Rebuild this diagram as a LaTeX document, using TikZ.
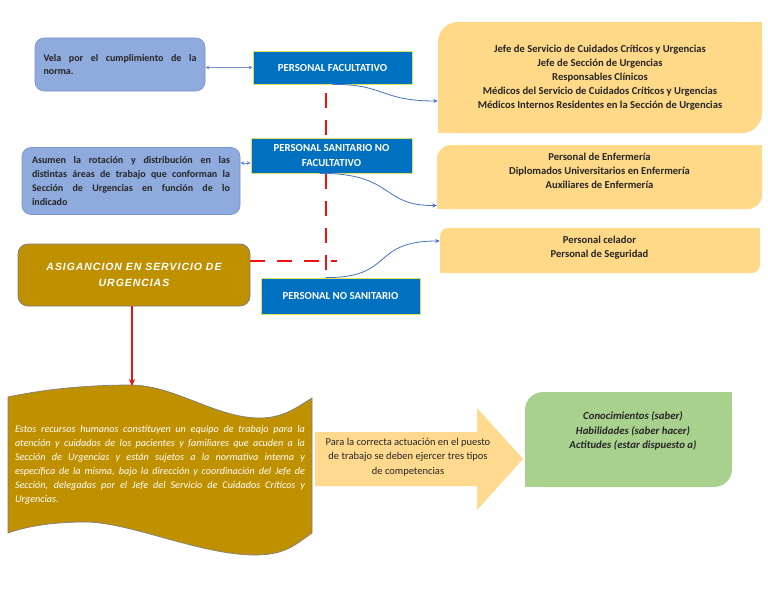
\documentclass[tikz,border=0pt]{standalone}
\usepackage{fontspec}
\setmainfont{Carlito}
\newfontfamily\asigfont[LetterSpace=9]{Liberation Sans}
\usetikzlibrary{arrows.meta,backgrounds}
\definecolor{boxblue}{HTML}{0070C0}
\definecolor{boxedge}{HTML}{DDE35A}
\definecolor{lav}{HTML}{8FAADC}
\definecolor{lavedge}{HTML}{7B93CC}
\definecolor{orangeF}{HTML}{FFD888}
\definecolor{arrowF}{HTML}{FFD98E}
\definecolor{gold}{HTML}{BF9000}
\definecolor{goldedge}{HTML}{7F7F7F}
\definecolor{greenF}{HTML}{A9D18E}
\definecolor{connc}{HTML}{4472C4}
\definecolor{dblc}{HTML}{7090D0}
\definecolor{redc}{HTML}{F01010}
\definecolor{txt}{HTML}{262626}
\begin{document}
\begin{tikzpicture}[x=1pt,y=-1pt,
  bluebox/.style={draw=boxedge, line width=0.8pt, fill=boxblue, text=white,
    font=\fontsize{10.8}{15}\selectfont\bfseries, align=center, inner sep=0pt},
  lavbox/.style={draw=lavedge, line width=0.6pt, fill=lav, rounded corners=9pt,
    text=txt, align=left, inner sep=0pt},
  orbox/.style={fill=orangeF, inner sep=0pt},
  ortext/.style={text=txt, font=\fontsize{10.6}{14}\selectfont\bfseries, align=center, inner sep=0pt},
  conn/.style={draw=connc, line width=0.8pt, -{Stealth[length=4.5pt,width=4pt]}},
  dbl/.style={draw=dblc, line width=0.8pt, {Stealth[length=4pt,width=4pt]}-{Stealth[length=4pt,width=4pt]}},
  reddash/.style={draw=redc, line width=2.6pt, dash pattern=on 15pt off 12pt},
  redarrow/.style={draw=redc, line width=1.6pt, -{Stealth[length=7pt,width=6pt]}}
]
\useasboundingbox (0,0) rectangle (768,594);

% blue boxes
\node[bluebox, minimum width=159pt, minimum height=33pt] (pf) at (332.5,67.5) {PERSONAL FACULTATIVO};
\node[bluebox, minimum width=161pt, minimum height=35pt] (psnf) at (331.5,155.5) {PERSONAL SANITARIO NO\\FACULTATIVO};
\node[bluebox, minimum width=159pt, minimum height=36pt] (pns) at (340.5,296) {PERSONAL NO SANITARIO};

% lavender boxes
\node[lavbox, minimum width=170pt, minimum height=53pt, font=\fontsize{10}{12.5}\selectfont\bfseries] (vela) at (120,64.5)
  {\makebox[153pt][s]{Vela por el cumplimiento de la}\\\makebox[153pt][l]{norma.}};
\node[lavbox, minimum width=218pt, minimum height=67pt, font=\fontsize{10}{14.3}\selectfont\bfseries] (asumen) at (131,181)
  {\makebox[198pt][s]{Asumen la rotación y distribución en las}\\
   \makebox[198pt][s]{distintas áreas de trabajo que conforman la}\\
   \makebox[198pt][s]{Sección de Urgencias en función de lo}\\
   \makebox[198pt][l]{indicado}};

% orange boxes
\node[orbox, rounded corners=20pt, minimum width=324pt, minimum height=111pt] (o1) at (600,77.5) {};
\fill[orangeF] (o1.north east) rectangle ++(-22,22);
\fill[orangeF] (o1.south west) rectangle ++(22,-22);
\node[ortext] (o1t) at (600,78) {Jefe de Servicio de Cuidados Críticos y Urgencias\\Jefe de Sección de Urgencias\\Responsables Clínicos\\Médicos del Servicio de Cuidados Críticos y Urgencias\\Médicos Internos Residentes en la Sección de Urgencias};

\node[orbox, rounded corners=14pt, minimum width=325pt, minimum height=64pt] (o2) at (599.5,177) {};
\fill[orangeF] (o2.north east) rectangle ++(-16,16);
\fill[orangeF] (o2.south west) rectangle ++(16,-16);
\node[ortext] (o2t) at (599.5,171) {Personal de Enfermería\\Diplomados Universitarios en Enfermería\\Auxiliares de Enfermería};

\node[orbox, rounded corners=8pt, minimum width=320pt, minimum height=45pt] (o3) at (600,250.5) {};
\fill[orangeF] (o3.north east) rectangle ++(-10,10);
\fill[orangeF] (o3.south west) rectangle ++(10,-10);
\node[ortext] (o3t) at (599.5,248) {Personal celador\\Personal de Seguridad};

% gold box
\node[draw=goldedge, line width=0.8pt, fill=gold, rounded corners=10pt, minimum width=232pt, minimum height=62pt,
  text=white, align=center, inner sep=0pt, font=\fontsize{10.5}{16}\selectfont\asigfont\bfseries\itshape] (asig) at (134,275)
  {ASIGANCION EN SERVICIO DE\\URGENCIAS};

% wave
\path[fill=gold, draw=goldedge, line width=0.7pt]
  (8,397) .. controls (50,388) and (95,385) .. (130,385)
  .. controls (175,385) and (215,418) .. (260,418)
  .. controls (285,418) and (300,405) .. (312,398)
  -- (312,533)
  .. controls (295,545) and (285,555) .. (255,555)
  .. controls (200,555) and (130,522) .. (85,522)
  .. controls (50,522) and (25,527) .. (8,533) -- cycle;
\node[text=white, align=left, inner sep=0pt, font=\fontsize{10.2}{14}\selectfont\itshape] (wave) at (160,465)
  {\makebox[290pt][s]{Estos recursos humanos constituyen un equipo de trabajo para la}\\
   \makebox[290pt][s]{atención y cuidados de los pacientes y familiares que acuden a la}\\
   \makebox[290pt][s]{Sección de Urgencias y están sujetos a la normativa interna y}\\
   \makebox[290pt][s]{específica de la misma, bajo la dirección y coordinación del Jefe de}\\
   \makebox[290pt][s]{Sección, delegadas por el Jefe del Servicio de Cuidados Críticos y}\\
   \makebox[290pt][l]{Urgencias.}};
\coordinate (wavetop) at (132,386);

% block arrow
\fill[arrowF] (315,432) -- (477,432) -- (477,408) -- (523,459) -- (477,510) -- (477,486) -- (315,486) -- cycle;
\node[text=txt, align=center, inner sep=0pt, font=\fontsize{10.5}{14.5}\selectfont] (arrt) at (408,457)
  {Para la correcta actuación en el puesto\\de trabajo se deben ejercer tres tipos\\de competencias};

% green box
\node[fill=greenF, rounded corners=18pt, minimum width=207pt, minimum height=95pt, inner sep=0pt] (green) at (628.5,439.5) {};
\fill[greenF] (green.north east) rectangle ++(-20,20);
\fill[greenF] (green.south west) rectangle ++(20,-20);
\node[text=txt, align=center, inner sep=0pt, font=\fontsize{10.8}{14.5}\selectfont\bfseries\itshape] (greent) at (633,431)
  {Conocimientos (saber)\\Habilidades (saber hacer)\\Actitudes (estar dispuesto a)};

% connectors
\draw[dbl] (pf.west -| vela.east) -- (pf.west);
\draw[dbl] ([yshift=-7.5pt]psnf.west -| asumen.east) -- ([yshift=-7.5pt]psnf.west);
\draw[conn] (pf.south) .. controls (385,84) and (380,101) .. ([yshift=-23.5pt]o1.west);
\draw[conn] ([xshift=-12pt]psnf.south) .. controls (395,173) and (380,206) .. ([yshift=-28.5pt]o2.west);
\draw[conn] ([xshift=-15pt]pns.north) .. controls (395,278) and (370,241) .. ([yshift=9.5pt]o3.west);
\draw[redarrow] (asig.south -| wavetop) -- (wavetop);

\coordinate (dtop) at (326,93);
\coordinate (dbot) at (326,281);
\coordinate (dhend) at (337,261);
\begin{scope}[on background layer]
  \fill[white] (0,0) rectangle (768,594);
  \draw[reddash] (dtop) -- (dbot);
  \draw[reddash] (asig.east |- dhend) -- (dhend);
\end{scope}
\end{tikzpicture}
\end{document}
